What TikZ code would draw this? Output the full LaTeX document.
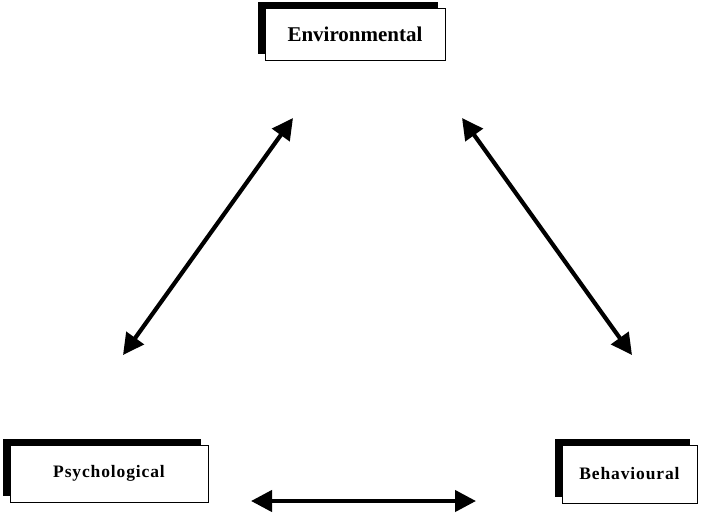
\documentclass[tikz,border=0pt]{standalone}
\usepackage{fontspec}
\setmainfont{Liberation Serif}
\newfontfamily\spacedserif[LetterSpace=5]{Liberation Serif}
\usetikzlibrary{arrows.meta,shadows}
\begin{document}
\begin{tikzpicture}[x=1pt,y=-1pt,
  factor/.style={draw=black, line width=0.8pt, fill=white, rectangle,
    inner sep=0pt, font=\bfseries,
    drop shadow={shadow xshift=-7pt, shadow yshift=6pt, fill=black, opacity=1}},
  link/.style={line width=4.2pt, {Triangle[length=21pt,width=21pt]}-{Triangle[length=21pt,width=21pt]}}]
\useasboundingbox (0,0) rectangle (703,515);
% the three factors
\node[factor, minimum width=180pt, minimum height=52pt, font=\bfseries\fontsize{21}{24}\selectfont]
  (env) at (355,34) {Environmental};
\node[factor, minimum width=198pt, minimum height=57pt, font=\bfseries\spacedserif\fontsize{17.5}{20}\selectfont]
  (psy) at (109,473.5) {Psychological};
\node[factor, minimum width=135pt, minimum height=58pt, font=\bfseries\spacedserif\fontsize{17.5}{20}\selectfont]
  (beh) at (629.5,474) {Behavioural};
% free ends of the two-way arrows
\coordinate (ps) at (123,355);
\coordinate (pe) at (293,118);
\coordinate (be) at (462,118);
\coordinate (bs) at (632,355);
\coordinate (hl) at (251,501);
\coordinate (hr) at (476,501);
\draw[link] (ps) -- (pe);
\draw[link] (be) -- (bs);
\draw[link] (hl) -- (hr);
\end{tikzpicture}
\end{document}
